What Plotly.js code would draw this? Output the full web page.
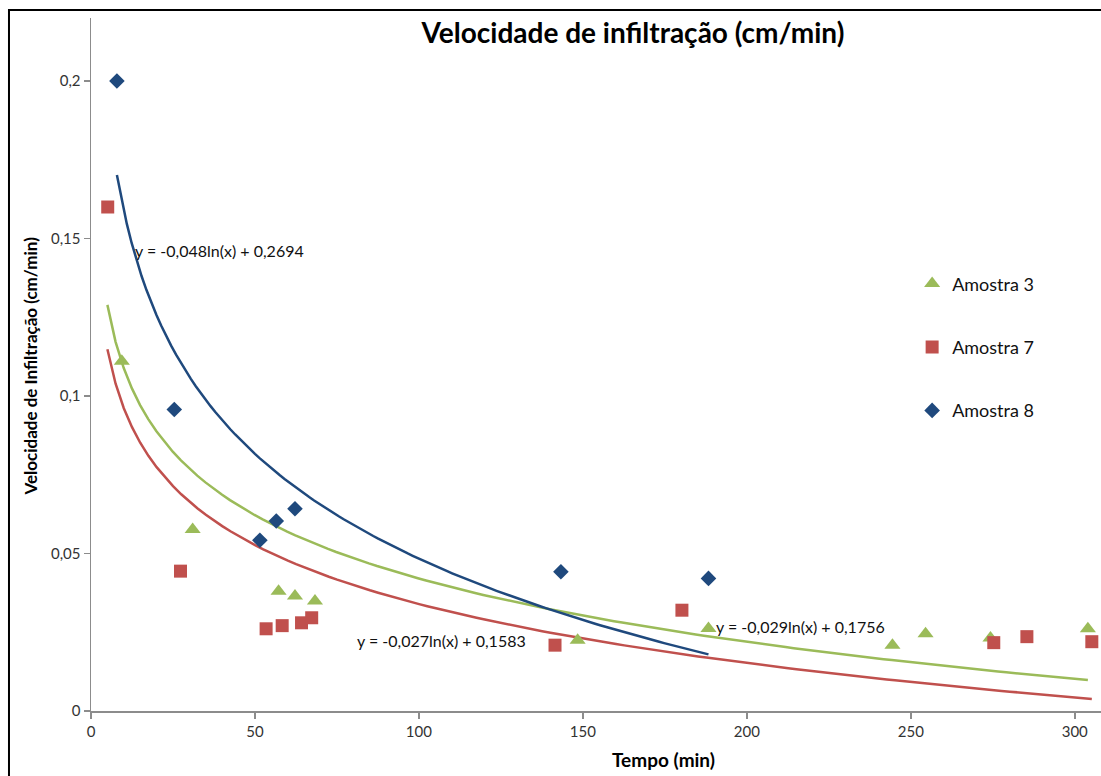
<!DOCTYPE html>
<html>
<head>
<meta charset="utf-8">
<script src="https://cdn.plot.ly/plotly-3.0.1.min.js"></script>
<style>html,body{margin:0;padding:0;background:#fff;}#chart{width:1101px;height:776px;}</style>
</head>
<body>
<div id="chart"></div>
<script>
// Data
const a3_x = [9.4, 31.0, 57.2, 62.2, 68.3, 148.4, 188.3, 244.4, 254.5, 274.3, 304.0];
const a3_y = [0.111, 0.0576, 0.0380, 0.0365, 0.0349, 0.0225, 0.0262, 0.0209, 0.0245, 0.0232, 0.0261];

const a7_x = [5.1, 27.3, 53.4, 58.3, 64.2, 67.3, 141.5, 180.2, 275.3, 285.4, 305.2];
const a7_y = [0.160, 0.0444, 0.0261, 0.0271, 0.0280, 0.0296, 0.0209, 0.0320, 0.0217, 0.0236, 0.0220];

const a8_x = [7.9, 25.4, 51.5, 56.5, 62.2, 143.3, 188.3];
const a8_y = [0.200, 0.0957, 0.0542, 0.0603, 0.0642, 0.0442, 0.0421];

const seriesNames = ['Amostra 3', 'Amostra 7', 'Amostra 8'];
// Logarithmic trendline coefficients as printed on the chart: y = a ln(x) + b
const trendA = [-0.029, -0.027, -0.048];
const trendB = [0.1756, 0.1583, 0.2694];
const trendStart = [5, 5, 7.9];
const trendEnd = [304, 305.2, 188.3];
const trendLabels = ['y = -0,029ln(x) + 0,1756', 'y = -0,027ln(x) + 0,1583', 'y = -0,048ln(x) + 0,2694'];

const xTicks = [0, 50, 100, 150, 200, 250, 300];
const yTicks = [0, 0.05, 0.1, 0.15, 0.2];

const colors = ['#9BBB59', '#C0504D', '#1F497D'];
const symbols = ['triangle-up', 'square', 'diamond'];
const sizes = [14, 13, 12];
const xs = [a3_x, a7_x, a8_x];
const ys = [a3_y, a7_y, a8_y];

function trendPoints(i) {
  const px = [], py = [];
  const n = 120;
  for (let k = 0; k <= n; k++) {
    const x = trendStart[i] + (trendEnd[i] - trendStart[i]) * k / n;
    px.push(x);
    py.push(trendA[i] * Math.log(x) + trendB[i]);
  }
  return {px, py};
}

const traces = [];
for (let i = 0; i < 3; i++) {
  const t = trendPoints(i);
  traces.push({
    x: t.px, y: t.py, mode: 'lines', type: 'scatter',
    line: {color: colors[i], width: 2.5}, showlegend: false, hoverinfo: 'skip'
  });
}
for (let i = 0; i < 3; i++) {
  traces.push({
    x: xs[i], y: ys[i], mode: 'markers', type: 'scatter', name: seriesNames[i],
    legendgroup: 'g' + i,
    marker: {color: colors[i], symbol: symbols[i], size: sizes[i], line: {width: 0}}
  });
}

const font = 'Lato, "Open Sans", sans-serif';

const layout = {
  width: 1101, height: 776,
  margin: {l: 91, r: 0, t: 18, b: 65, pad: 0},
  paper_bgcolor: '#fff', plot_bgcolor: '#fff',
  separators: ',.',
  font: {family: font, color: '#222'},
  title: {
    text: '<b>Velocidade de infiltração (cm/min)</b>',
    font: {family: font, size: 28, color: '#000'},
    xref: 'paper', x: 0.5366, xanchor: 'center',
    yref: 'container', y: 0.957, yanchor: 'middle'
  },
  xaxis: {
    range: [0, 308], tickvals: xTicks, ticktext: xTicks.map(String),
    showgrid: false, zeroline: false, showline: true, linecolor: '#8c8c8c', linewidth: 1.5,
    ticks: 'outside', ticklen: 6, tickcolor: '#8c8c8c', tickwidth: 1.5,
    tickfont: {family: font, size: 15, color: '#333'}
  },
  yaxis: {
    range: [0, 0.22], tickvals: yTicks, ticktext: ['0', '0,05', '0,1', '0,15', '0,2'],
    showgrid: false, zeroline: false, showline: true, linecolor: '#8c8c8c', linewidth: 1.5,
    ticks: 'outside', ticklen: 6, tickcolor: '#8c8c8c', tickwidth: 1.5,
    tickfont: {family: font, size: 15, color: '#333'}
  },
  legend: {
    x: 0.813, y: 0.643, xanchor: 'left', yanchor: 'top',
    traceorder: 'grouped', tracegroupgap: 37,
    font: {family: font, size: 18, color: '#111'},
    bgcolor: 'rgba(0,0,0,0)'
  },
  annotations: [
    {text: '<b>Tempo (min)</b>', xref: 'paper', yref: 'paper', x: 0.567, y: -0.070,
     xanchor: 'center', yanchor: 'middle', showarrow: false, font: {family: font, size: 19, color: '#000'}},
    {text: '<b>Velocidade de Infiltração (cm/min)</b>', xref: 'paper', yref: 'paper', x: -0.0604, y: 0.4986,
     xanchor: 'center', yanchor: 'middle', textangle: -90, showarrow: false, font: {family: font, size: 17, color: '#000'}},
    {text: trendLabels[2], xref: 'x', yref: 'y', x: 12.8, y: 0.1462, xanchor: 'left', yanchor: 'middle',
     showarrow: false, font: {family: font, size: 16, color: '#111'}},
    {text: trendLabels[1], xref: 'x', yref: 'y', x: 80.5, y: 0.0224, xanchor: 'left', yanchor: 'middle',
     showarrow: false, font: {family: font, size: 16, color: '#111'}},
    {text: trendLabels[0], xref: 'x', yref: 'y', x: 190, y: 0.0268, xanchor: 'left', yanchor: 'middle',
     showarrow: false, font: {family: font, size: 16, color: '#111'}}
  ],
  shapes: [
    {type: 'rect', xref: 'paper', yref: 'paper', x0: -0.0812, x1: 1.05, y0: 1.0115, y1: -0.2,
     line: {color: '#000', width: 2}, fillcolor: 'rgba(0,0,0,0)', layer: 'above'}
  ]
};

Plotly.newPlot('chart', traces, layout, {displayModeBar: false, staticPlot: true});
</script>
</body>
</html>
